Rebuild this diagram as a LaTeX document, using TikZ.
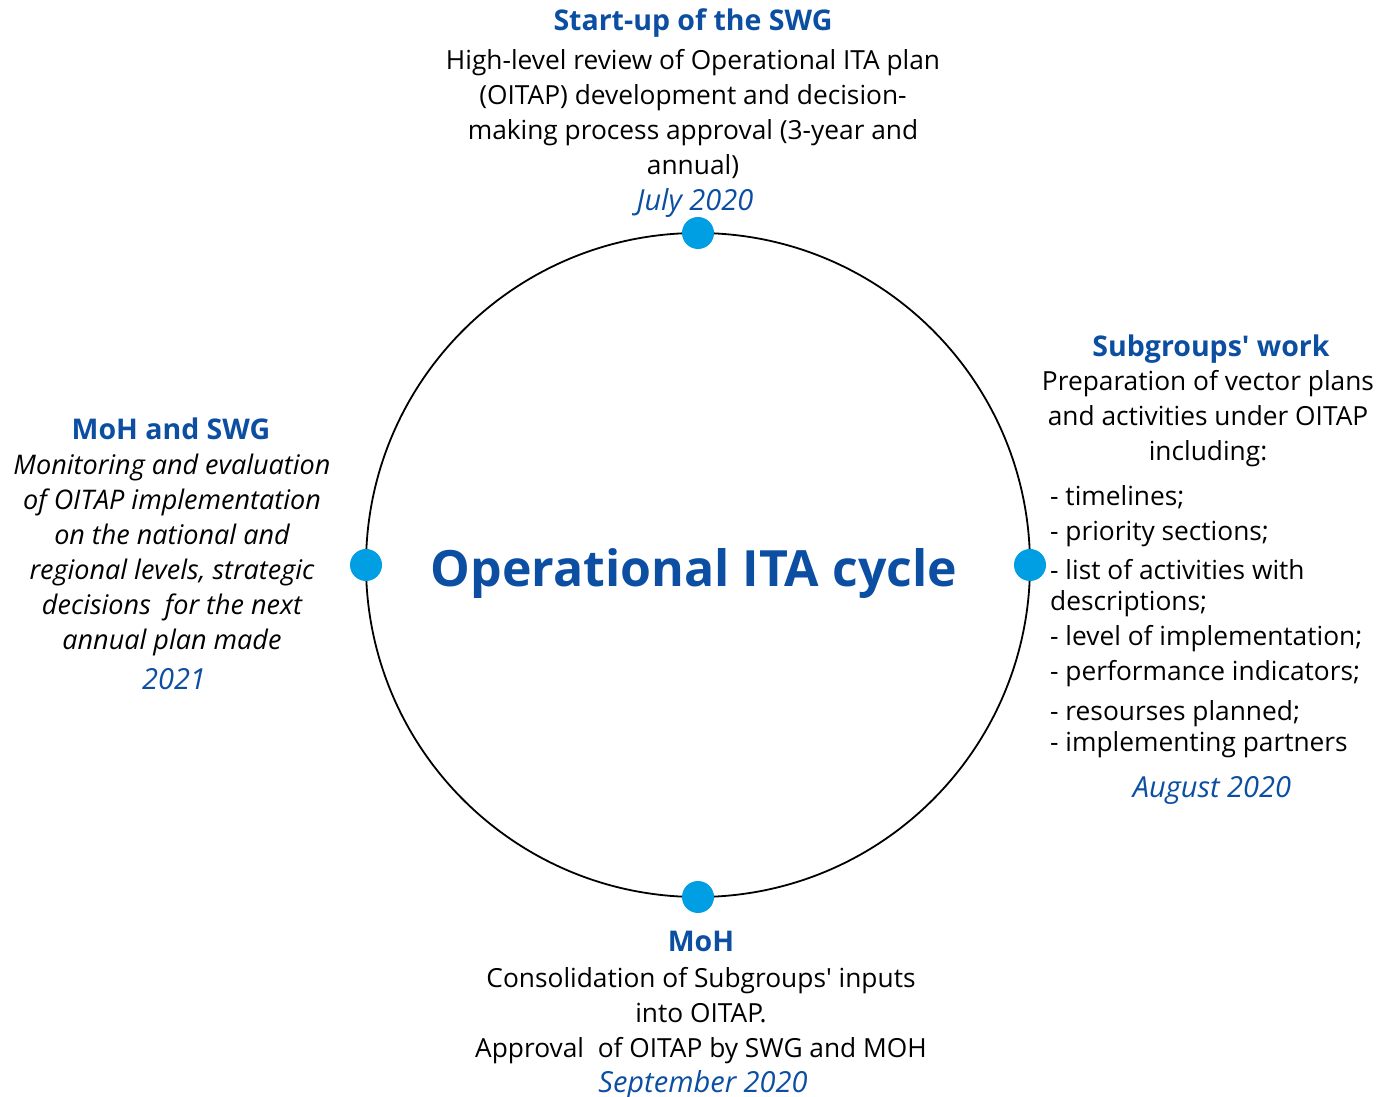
\documentclass[tikz,border=0pt]{standalone}
\usepackage{fontspec}
\setmainfont{Open Sans}
\definecolor{itablue}{HTML}{0B4EA2}
\definecolor{dotblue}{HTML}{009FE3}

\begin{document}
\begin{tikzpicture}[line cap=round,line join=round,x=1pt,y=1pt,
		phase/.style={inner sep=0pt,color=itablue,font=\fontsize{28.5}{30}\selectfont\bfseries},
		body/.style={inner sep=0pt,align=center,font=\fontsize{26.3}{35}\selectfont},
		when/.style={inner sep=0pt,color=itablue,font=\fontsize{29}{35}\selectfont\itshape},
		stage/.style={circle,fill=dotblue,inner sep=0pt,minimum size=32pt}]
			\useasboundingbox (0,0) rectangle (1395,1096);
			\draw [line width=1.8pt] (698,531) circle (332);
			\node[inner sep=0pt,color=itablue,font=\fontsize{50}{54}\selectfont\bfseries] (cycle) at (694,522) {Operational ITA cycle};
			% the four stages on the circle
			\node[stage] (start) at (698,863) {};
			\node[stage] (sub) at (1030,531) {};
			\node[stage] (moh) at (698,199) {};
			\node[stage] (eval) at (366,531) {};
			% top
			\node[phase] (starthead) at (693,1073) {Start-up of the SWG};
			\node[body] (starttext) at (693,982) {High-level review of Operational ITA plan\\(OITAP) development and decision-\\making process approval (3-year and\\annual)};
			\node[when] (startdate) at (695,893) {July 2020};
			% right
			\node[phase] (subhead) at (1211,747) {Subgroups\textquotesingle\ work};
			\node[body] (subtext) at (1208,677) {Preparation of vector plans\\and activities under OITAP\\including:};
			\node[body,align=left,anchor=north west] (sublist) at (1050,611) {- timelines;\\- priority sections;\\[4pt]- list of activities with\\[-4pt]descriptions;\\- level of implementation;\\- performance indicators;\\[5pt]- resourses planned;\\[-4pt]- implementing partners};
			\node[when] (subdate) at (1212,306) {August 2020};
			% bottom
			\node[phase] (mohhead) at (701,155) {MoH};
			\node[body] (mohtext) at (701,80) {Consolidation of Subgroups\textquotesingle\ inputs\\into OITAP.\\Approval\ \ of OITAP by SWG and MOH};
			\node[when] (mohdate) at (703,11) {September 2020};
			% left
			\node[phase] (evalhead) at (171,667) {MoH and SWG};
			\node[body,font=\fontsize{27}{35}\selectfont\itshape] (evaltext) at (172,541) {Monitoring and evaluation\\of OITAP implementation\\on the national and\\regional levels, strategic\\decisions\ \ for the next\\annual plan made};
			\node[when] (evaldate) at (174,417) {2021};
		\end{tikzpicture}
\end{document}
